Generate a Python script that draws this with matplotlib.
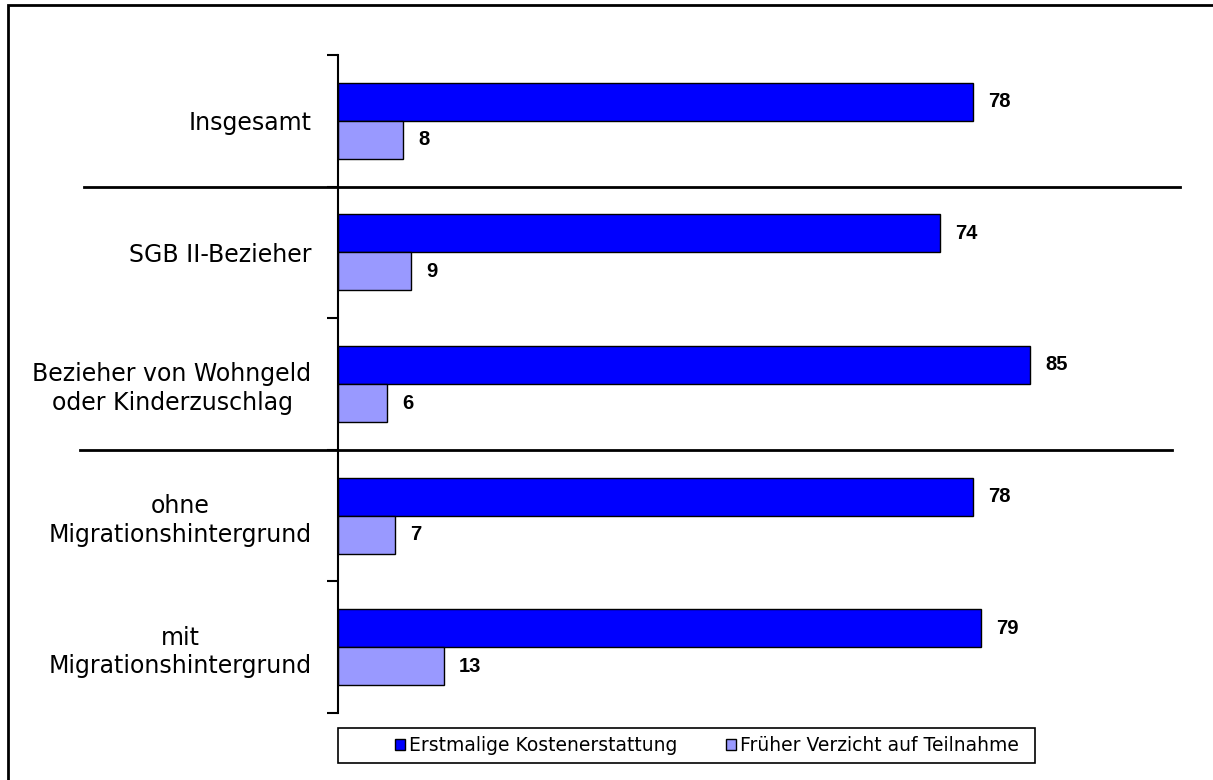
import matplotlib.pyplot as plt
import matplotlib.transforms as mtransforms
from matplotlib.patches import Rectangle, Patch
from matplotlib.lines import Line2D
import numpy as np

plt.rcParams['font.family'] = ['Liberation Sans', 'DejaVu Sans']

# Data
categories = ["Insgesamt", "SGB II-Bezieher", "Bezieher von Wohngeld\noder Kinderzuschlag",
              "ohne\nMigrationshintergrund", "mit\nMigrationshintergrund"]
kostenerstattung = [78, 74, 85, 78, 79]
verzicht = [8, 9, 6, 7, 13]
series_names = ["Erstmalige Kostenerstattung", "Früher Verzicht auf Teilnahme"]

W, H = 1213, 780
fig = plt.figure(figsize=(W / 100, H / 100), dpi=100)
ax = fig.add_axes([338 / W, 1 - 713 / H, (1180 - 338) / W, (713 - 55) / H])

y = np.arange(len(categories))
bh = 0.289
ax.barh(y - bh / 2, kostenerstattung, height=bh, color='#0000FF', edgecolor='black', linewidth=1)
ax.barh(y + bh / 2, verzicht, height=bh, color='#9999FF', edgecolor='black', linewidth=1)

for yy, v in zip(y - bh / 2, kostenerstattung):
    ax.text(v + 1.85, yy, str(v), va='center', ha='left', fontsize=14.5, fontweight='bold')
for yy, v in zip(y + bh / 2, verzicht):
    ax.text(v + 1.85, yy, str(v), va='center', ha='left', fontsize=14.5, fontweight='bold')

ax.set_xlim(0, (1180 - 338) / 8.14)
ax.set_ylim(len(categories) - 0.5, -0.5)

for s in ['top', 'right', 'bottom']:
    ax.spines[s].set_visible(False)
ax.spines['left'].set_linewidth(1.5)
ax.xaxis.set_visible(False)

ax.set_yticks(y)
ax.set_yticklabels(categories, fontsize=17, family='DejaVu Sans', multialignment='center',
                   linespacing=1.25)
ax.tick_params(axis='y', which='major', length=0, pad=19)
ax.set_yticks(np.arange(-0.5, len(categories)), minor=True)
ax.tick_params(axis='y', which='minor', length=8, width=1.5)

# group separators
trans = mtransforms.blended_transform_factory(fig.transFigure, ax.transData)
for yv, x0, x1 in [(0.5, 84, 1180), (2.5, 80, 1172)]:
    ax.add_line(Line2D([x0 / W, x1 / W], [yv, yv], transform=trans, color='black',
                       linewidth=2, clip_on=False))

# outer frame
fig.patches.append(Rectangle((8 / W, -0.1), 1.2, 1 - 5 / H + 0.1, transform=fig.transFigure,
                             fill=False, edgecolor='black', linewidth=2))

# legend box
fig.patches.append(Rectangle((338 / W, 1 - 763 / H), (1035 - 338) / W, 35 / H,
                             transform=fig.transFigure, fill=False, edgecolor='black',
                             linewidth=1.2))
handles = [Patch(facecolor='#0000FF', edgecolor='black'), Patch(facecolor='#9999FF', edgecolor='black')]
fig.legend(handles, series_names, loc='center', ncol=2,
           bbox_to_anchor=(707 / W, 1 - 745.5 / H),
           prop={'family': 'DejaVu Sans', 'size': 13.5},
           frameon=False, handlelength=0.55, handleheight=0.55, handletextpad=0.2,
           columnspacing=2.6, borderpad=0.2)

fig.savefig('out.png', dpi=100)
